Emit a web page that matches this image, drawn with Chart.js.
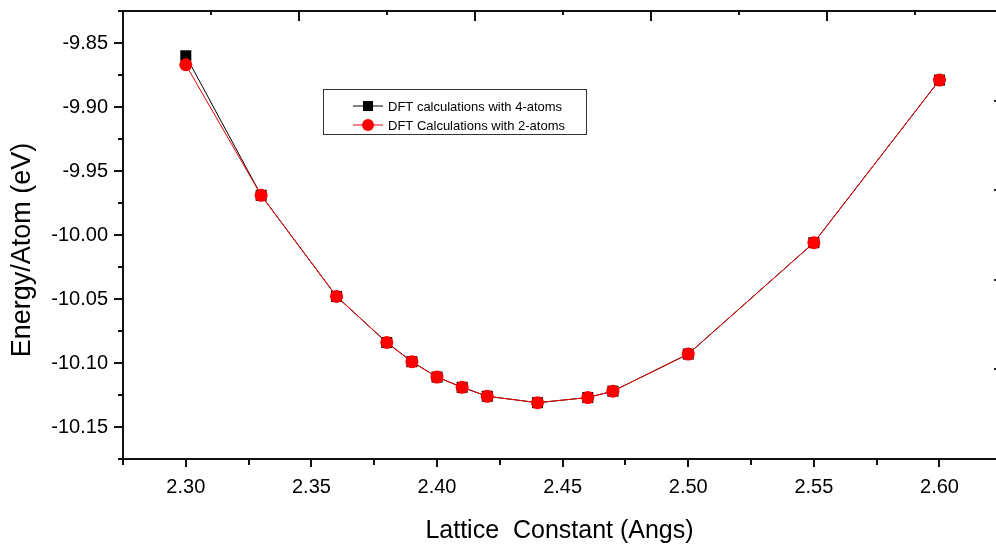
<!DOCTYPE html>
<html>
<head>
<meta charset="utf-8">
<script src="https://cdn.jsdelivr.net/npm/chart.js@4.4.1/dist/chart.umd.min.js"></script>
<style>
  html, body { margin: 0; padding: 0; background: #fff; }
</style>
</head>
<body>
<canvas id="energyChart" width="996" height="550"></canvas>
<script>
// lattice constant (Angs) and energy per atom (eV)
const latticeConst = [2.30, 2.33, 2.36, 2.38, 2.39, 2.40, 2.41, 2.42, 2.44, 2.46, 2.47, 2.50, 2.55, 2.60];
const energy4atoms = [-9.860, -9.969, -10.048, -10.084, -10.099, -10.111, -10.119, -10.126, -10.131, -10.127, -10.122, -10.093, -10.006, -9.879];
const energy2atoms = [-9.867, -9.969, -10.048, -10.084, -10.099, -10.111, -10.119, -10.126, -10.131, -10.127, -10.122, -10.093, -10.006, -9.879];
const seriesLabels = ['DFT calculations with 4-atoms', 'DFT Calculations with 2-atoms'];

// axis ticks (majors get a label, minors sit halfway between)
const xTickValues = [2.275, 2.30, 2.325, 2.35, 2.375, 2.40, 2.425, 2.45, 2.475, 2.50, 2.525, 2.55, 2.575, 2.60];
const yTickValues = [-10.175, -10.15, -10.125, -10.10, -10.075, -10.05, -10.025, -10.00, -9.975, -9.95, -9.925, -9.90, -9.875, -9.85, -9.825];
const topTickValues = [0, 1, 2, 3, 4, 5, 6, 7, 8, 9];
const rightTickValues = [1, 2, 3, 4];

const FONT = '"Liberation Sans", Arial, sans-serif';
Chart.defaults.font.family = FONT;
Chart.defaults.color = '#000';

const toPoints = (xs, ys) => xs.map((x, i) => ({ x: x, y: ys[i] }));
const isMajor = v => Math.round(Math.abs(v) * 1000) % 50 === 0;
const useTicks = vals => s => { s.ticks = vals.map(v => ({ value: v })); };

// draws tick marks (major longer), the y title and the boxed legend
const decorations = {
  id: 'decorations',
  afterDraw(chart) {
    const ctx = chart.ctx;
    const { x, y, xTop, yRight } = chart.scales;
    const area = chart.chartArea;
    ctx.save();
    ctx.strokeStyle = '#111';
    ctx.lineWidth = 2;
    ctx.beginPath();
    x.ticks.forEach(t => {
      const px = Math.round(x.getPixelForValue(t.value));
      const len = isMajor(t.value) ? 8 : 6;
      ctx.moveTo(px, area.bottom);
      ctx.lineTo(px, area.bottom + len);
    });
    y.ticks.forEach(t => {
      const py = Math.round(y.getPixelForValue(t.value));
      const len = isMajor(t.value) ? 9 : 5;
      ctx.moveTo(area.left, py);
      ctx.lineTo(area.left - len, py);
    });
    xTop.ticks.forEach(t => {
      const px = Math.round(xTop.getPixelForValue(t.value));
      const len = t.value % 2 === 0 ? 10 : 4;
      ctx.moveTo(px, area.top);
      ctx.lineTo(px, area.top + len);
    });
    ctx.stroke();
    ctx.fillStyle = '#222';
    yRight.ticks.forEach(t => {
      const py = Math.round(yRight.getPixelForValue(t.value));
      ctx.fillRect(area.right - 2, py - 1, 2, 2);
    });

    // y axis title
    ctx.save();
    ctx.translate(23, 250);
    ctx.rotate(-Math.PI / 2);
    ctx.font = '27px ' + FONT;
    ctx.fillStyle = '#000';
    ctx.textAlign = 'center';
    ctx.textBaseline = 'middle';
    ctx.fillText('Energy/Atom (eV)', 0, 0);
    ctx.restore();

    // legend box
    ctx.lineWidth = 1;
    ctx.strokeStyle = '#333';
    ctx.strokeRect(323.5, 89.5, 263, 45);
    [1, 0].forEach((di, r) => {
      const ds = chart.data.datasets[di];
      const ly = 106 + r * 19;
      ctx.strokeStyle = ds.borderColor;
      ctx.lineWidth = 1;
      ctx.beginPath();
      ctx.moveTo(353, ly);
      ctx.lineTo(383, ly);
      ctx.stroke();
      ctx.fillStyle = ds.pointBackgroundColor;
      if (ds.pointStyle === 'rect') {
        ctx.fillRect(363, ly - 5, 10, 10);
      } else {
        ctx.beginPath();
        ctx.arc(368, ly, 6, 0, Math.PI * 2);
        ctx.fill();
      }
      ctx.fillStyle = '#000';
      ctx.font = '13px ' + FONT;
      ctx.textAlign = 'left';
      ctx.textBaseline = 'middle';
      ctx.fillText(ds.label, 388, ly + 1);
    });
    ctx.restore();
  }
};

new Chart(document.getElementById('energyChart'), {
  type: 'line',
  data: {
    datasets: [
      {
        label: seriesLabels[1],
        data: toPoints(latticeConst, energy2atoms),
        borderColor: '#f00000',
        borderWidth: 1,
        pointStyle: 'circle',
        pointRadius: 6.5,
        pointBackgroundColor: '#ff0000',
        pointBorderWidth: 0,
        tension: 0
      },
      {
        label: seriesLabels[0],
        data: toPoints(latticeConst, energy4atoms),
        borderColor: '#000000',
        borderWidth: 1,
        pointStyle: 'rect',
        pointRadius: 7.8,
        pointBackgroundColor: '#000000',
        pointBorderWidth: 0,
        tension: 0
      }
    ]
  },
  options: {
    responsive: false,
    animation: false,
    layout: { autoPadding: false, padding: { top: 11, right: 0, left: 0, bottom: 0 } },
    plugins: { legend: { display: false }, tooltip: { enabled: false } },
    scales: {
      x: {
        type: 'linear',
        position: 'bottom',
        min: 2.275,
        max: 2.6225,
        afterBuildTicks: useTicks(xTickValues),
        afterFit: s => { s.height = 91; s.paddingLeft = 0; s.paddingRight = 0; },
        ticks: {
          autoSkip: false,
          maxRotation: 0,
          padding: 16,
          font: { size: 20 },
          color: '#000',
          callback: v => isMajor(v) ? v.toFixed(2) : ''
        },
        grid: { drawOnChartArea: false, drawTicks: false },
        border: { color: '#111', width: 2 },
        title: {
          display: true,
          text: 'Lattice  Constant (Angs)',
          font: { size: 25 },
          color: '#000',
          padding: { top: 4, bottom: 4 }
        }
      },
      xTop: {
        type: 'linear',
        position: 'top',
        min: 0,
        max: 9.92,
        afterBuildTicks: useTicks(topTickValues),
        afterFit: s => { s.height = 0; s.paddingLeft = 0; s.paddingRight = 0; },
        ticks: { display: false },
        grid: { drawOnChartArea: false, drawTicks: false },
        border: { color: '#111', width: 2 }
      },
      y: {
        type: 'linear',
        position: 'left',
        min: -10.175,
        max: -9.825,
        afterBuildTicks: useTicks(yTickValues),
        afterFit: s => { s.width = 123; s.paddingTop = 0; s.paddingBottom = 0; },
        ticks: {
          autoSkip: false,
          padding: 15,
          font: { size: 20 },
          color: '#000',
          callback: v => isMajor(v) ? v.toFixed(2) : ''
        },
        grid: { drawOnChartArea: false, drawTicks: false },
        border: { color: '#111', width: 2 }
      },
      yRight: {
        type: 'linear',
        position: 'right',
        min: 0,
        max: 5,
        afterBuildTicks: useTicks(rightTickValues),
        afterFit: s => { s.width = 0; s.paddingTop = 0; s.paddingBottom = 0; },
        ticks: { display: false },
        grid: { display: false, drawOnChartArea: false, drawTicks: false },
        border: { display: false }
      }
    }
  },
  plugins: [decorations]
});
</script>
</body>
</html>
